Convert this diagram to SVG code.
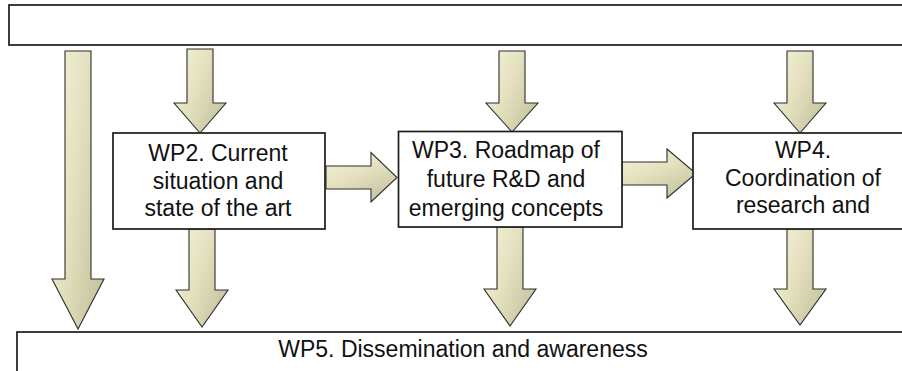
<svg xmlns="http://www.w3.org/2000/svg" width="902" height="371" viewBox="0 0 902 371">
<style>
.box{fill:#ffffff;stroke:#1c1c1c;stroke-width:1.7}
.arr{fill:url(#g);stroke:#2e2e2e;stroke-width:1.1;stroke-linejoin:miter}
.harr{fill:url(#gh);stroke:#2e2e2e;stroke-width:1.1;stroke-linejoin:miter}
text{font-family:"Liberation Sans",Arial,sans-serif;font-size:23px;fill:#111;text-anchor:middle}
</style>
<defs>
<linearGradient id="g" x1="0" y1="0" x2="1" y2="0.6">
<stop offset="0" stop-color="#F4F3D8"/>
<stop offset="0.5" stop-color="#E4E2C0"/>
<stop offset="1" stop-color="#C9C6A2"/>
</linearGradient>
<linearGradient id="gh" x1="0" y1="0" x2="0.6" y2="1">
<stop offset="0" stop-color="#F4F3D8"/>
<stop offset="0.5" stop-color="#E4E2C0"/>
<stop offset="1" stop-color="#C9C6A2"/>
</linearGradient>
</defs>
<rect width="902" height="371" fill="#ffffff"/>
<g id="connectors">
<path class="arr" d="M65,51 H91 V279 H104 L78,329 L52,279 H65 Z"/>
<path class="arr" d="M187,49 H213 V103 H226 L200,133 L174,103 H187 Z"/>
<path class="arr" d="M499,51 H525 V103 H538 L512,132 L486,103 H499 Z"/>
<path class="arr" d="M787,51 H813 V103 H826 L800,133 L774,103 H787 Z"/>
<path class="arr" d="M189,229 H215 V290 H228 L202,327 L176,290 H189 Z"/>
<path class="arr" d="M497,227 H523 V289 H536 L510,326 L484,289 H497 Z"/>
<path class="arr" d="M787,229 H813 V289 H826 L800,325 L774,289 H787 Z"/>
<path class="harr" d="M326,166 H371 V152.5 L397,177.5 L371,202 V189 H326 Z"/>
<path class="harr" d="M622,162 H667 V149 L696,173.5 L667,198 V185 H622 Z"/>
</g>
<g id="top">
<rect class="box" x="9" y="5" width="910" height="40"/>
</g>
<g id="wp2">
<rect class="box" x="113" y="133" width="212" height="96"/>
<text x="218" y="161">WP2. Current</text>
<text x="218" y="189">situation and</text>
<text x="218" y="216">state of the art</text>
</g>
<g id="wp3">
<rect class="box" x="398.5" y="131.5" width="223.5" height="95.5"/>
<text x="506" y="158">WP3. Roadmap of</text>
<text x="506" y="187">future R&amp;D and</text>
<text x="506" y="216">emerging concepts</text>
</g>
<g id="wp4">
<rect class="box" x="693" y="133" width="220" height="96"/>
<text x="803" y="158">WP4.</text>
<text x="803" y="186">Coordination of</text>
<text x="803" y="213">research and</text>
</g>
<g id="wp5">
<rect class="box" x="17" y="332" width="900" height="50"/>
<text x="463" y="357">WP5. Dissemination and awareness</text>
</g>
</svg>
